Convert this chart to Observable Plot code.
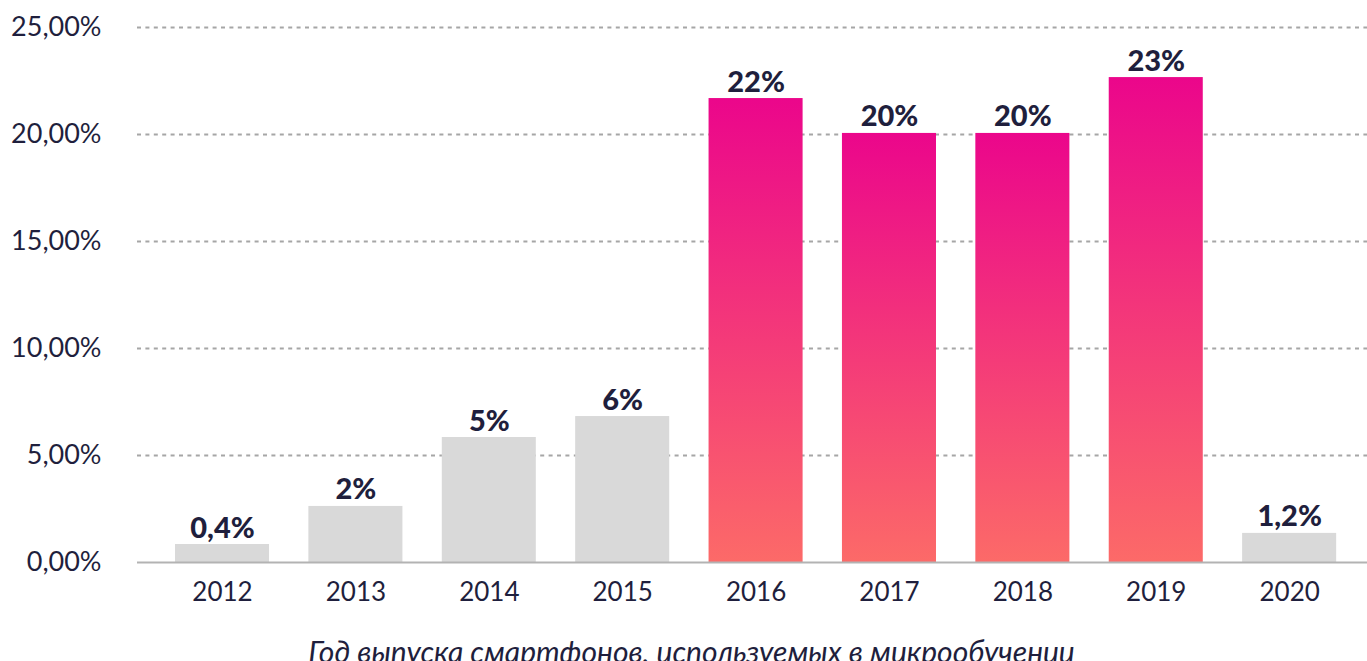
<!DOCTYPE html>
<html>
<head>
<meta charset="utf-8">
<script src="https://cdn.jsdelivr.net/npm/d3@7"></script>
<script src="https://cdn.jsdelivr.net/npm/@observablehq/plot@0.6"></script>
<style>
  html, body { margin: 0; padding: 0; background: #fff; overflow: hidden; }
  #chart svg { display: block; }
</style>
</head>
<body>
<div id="chart"></div>
<script>
const years = ["2012","2013","2014","2015","2016","2017","2018","2019","2020"];
const values = [0.84, 2.62, 5.84, 6.82, 21.68, 20.05, 20.05, 22.66, 1.36];
const valueLabels = ["0,4%","2%","5%","6%","22%","20%","20%","23%","1,2%"];
const highlighted = [false,false,false,false,true,true,true,true,false];
const yTicks = [0, 5, 10, 15, 20, 25];
const xTitle = "Год выпуска смартфонов, используемых в микрообучении";

const data = years.map((y, i) => ({year: y, value: values[i], label: valueLabels[i], hi: highlighted[i]}));
const textColor = "#1f1f3d";

const chart = Plot.plot({
  width: 1367,
  height: 661,
  marginTop: 27,
  marginBottom: 99,
  marginLeft: 137,
  marginRight: 0,
  style: {fontFamily: "Lato, 'Noto Sans', sans-serif", color: textColor, background: "#fff"},
  x: {domain: years, paddingInner: 0.295, paddingOuter: 0.258, align: 0.552, round: false, label: null},
  y: {domain: [0, 25], label: null},
  marks: [
    Plot.ruleY(yTicks.filter(d => d > 0), {stroke: "#a6a6a6", strokeWidth: 2, strokeDasharray: "4,4.4"}),
    Plot.barY(data, {x: "year", y: "value", fill: d => d.hi ? "url(#barGrad)" : "#d9d9d9"}),
    Plot.ruleY([0], {stroke: "#b3b3b3", strokeWidth: 2}),
    Plot.text(data, {x: "year", y: "value", text: "label", lineAnchor: "bottom", dy: -7, fontSize: 29, fontWeight: 900, fill: textColor}),
    Plot.axisY({ticks: yTicks, tickSize: 0, tickPadding: 36, fontSize: 27, tickFormat: d => d.toFixed(2).replace(".", ",") + "%", label: null}),
    Plot.axisX({tickSize: 0, tickPadding: 20, fontSize: 26, label: null}),
    Plot.text([xTitle], {frameAnchor: "bottom", dx: -61, dy: 100, fontSize: 30, fontStyle: "italic", fill: textColor})
  ]
});

const svgNS = "http://www.w3.org/2000/svg";
const defs = document.createElementNS(svgNS, "defs");
const grad = document.createElementNS(svgNS, "linearGradient");
grad.setAttribute("id", "barGrad");
grad.setAttribute("x1", "0"); grad.setAttribute("y1", "0");
grad.setAttribute("x2", "0"); grad.setAttribute("y2", "1");
[["0%", "#eb068b"], ["100%", "#fc6a68"]].forEach(([o, c]) => {
  const s = document.createElementNS(svgNS, "stop");
  s.setAttribute("offset", o); s.setAttribute("stop-color", c);
  grad.appendChild(s);
});
defs.appendChild(grad);
chart.insertBefore(defs, chart.firstChild);
document.getElementById("chart").appendChild(chart);
</script>
</body>
</html>
